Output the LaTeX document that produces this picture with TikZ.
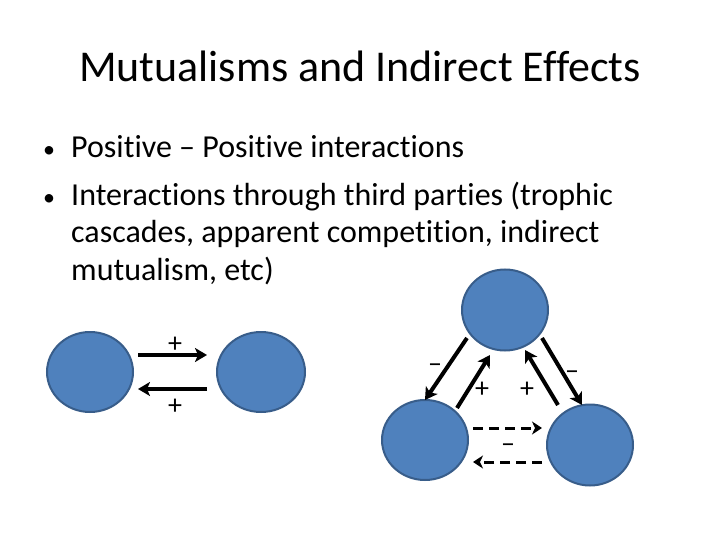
\documentclass[tikz,border=0pt]{standalone}
\usepackage{fontspec}
\setmainfont{Carlito}[Ligatures=NoCommon]
\usetikzlibrary{arrows.meta,shapes.geometric}
\definecolor{blobfill}{RGB}{79,129,189}
\definecolor{blobline}{RGB}{56,93,138}
\tikzset{
  blob/.style={ellipse, draw=blobline, line width=2pt, fill=blobfill, inner sep=0pt},
  solidarr/.style={line width=4pt, -{Stealth[length=12pt,width=14pt,inset=3pt]}},
  dasharr/.style={line width=3pt, dash pattern=on 10pt off 6pt, -{Stealth[length=10pt,width=13pt,inset=3pt]}},
  lbl/.style={font=\fontsize{28}{30}\selectfont, inner sep=0pt, anchor=base},
  body/.style={font=\fontsize{32}{38}\selectfont, anchor=base west, inner sep=0pt},
}
\begin{document}
\begin{tikzpicture}[x=1pt,y=-1pt]
\useasboundingbox (0,0) rectangle (720,540);
\node[font=\fontsize{44}{52}\selectfont, anchor=base, inner sep=0pt] (title) at (360,82) {Mutualisms and Indirect Effects};
\node[body, anchor=base, font=\fontsize{24}{28}\selectfont] (b1) at (49,158) {•};
\node[body] (t1) at (71,158) {Positive – Positive interactions};
\node[body, anchor=base, font=\fontsize{24}{28}\selectfont] (b2) at (49,206) {•};
\node[body] (t2) at (71,206) {Interactions through third parties (trophic};
\node[body] (t3) at (71,243) {cascades, apparent competition, indirect};
\node[body] (t4) at (71,280) {mutualism, etc)};
% pair
\node[blob, minimum width=86pt, minimum height=80pt] (L) at (90,372) {};
\node[blob, minimum width=88pt, minimum height=80pt] (R) at (261,372) {};
\coordinate (a1s) at (138,355); \coordinate (a1e) at (207,355);
\coordinate (a2s) at (207,389); \coordinate (a2e) at (138,389);
\draw[solidarr] (a1s) -- (a1e);
\draw[solidarr] (a2s) -- (a2e);
\node[lbl] (p1) at (175,352.5) {+};
\node[lbl] (p2) at (175,414.5) {+};
% triangle
\node[blob, minimum width=86pt, minimum height=81pt] (T) at (505,310) {};
\node[blob, minimum width=86pt, minimum height=80pt] (BL) at (425,440) {};
\node[blob, minimum width=86pt, minimum height=81pt] (BR) at (590,445) {};
\coordinate (c1s) at (467,338); \coordinate (c1e) at (425,400);
\coordinate (c2s) at (457,408); \coordinate (c2e) at (490,355);
\coordinate (c3s) at (558,405); \coordinate (c3e) at (525,350);
\coordinate (c4s) at (542,338); \coordinate (c4e) at (582,405);
\draw[solidarr] (c1s) -- (c1e);
\draw[solidarr] (c2s) -- (c2e);
\draw[solidarr] (c3s) -- (c3e);
\draw[solidarr] (c4s) -- (c4e);
\node[lbl] (m1) at (435,372) {–};
\node[lbl] (q1) at (482,397.5) {+};
\node[lbl] (q2) at (527,397.5) {+};
\node[lbl] (m2) at (572,379) {–};
\coordinate (d1s) at (473,428); \coordinate (d1e) at (542,428);
\coordinate (d2s) at (542,462); \coordinate (d2e) at (473,462);
\draw[dasharr] (d1s) -- (d1e);
\draw[dasharr] (d2s) -- (d2e);
\node[lbl] (m3) at (508,452) {–};
\end{tikzpicture}
\end{document}
